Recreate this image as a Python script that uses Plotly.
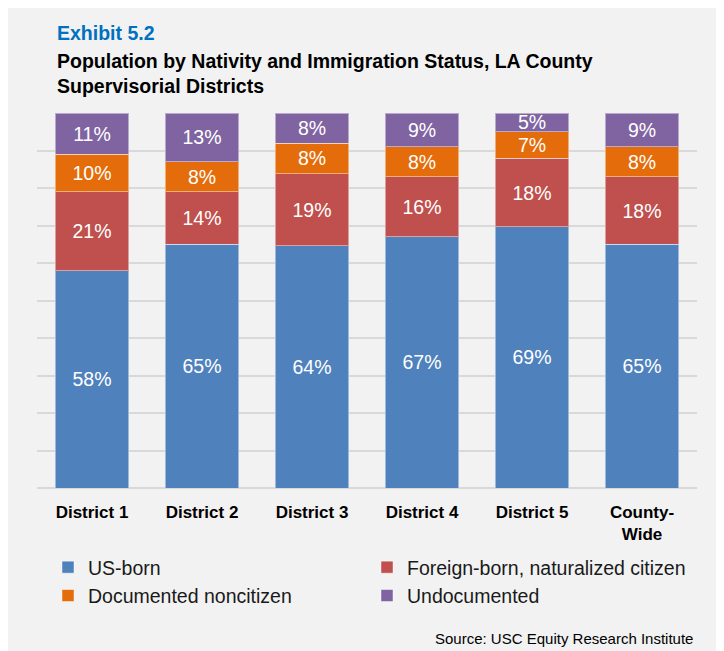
import plotly.graph_objects as go

# Data (percent of population)
districts = ["District 1", "District 2", "District 3", "District 4", "District 5", "County-<br>Wide"]
us_born = [58, 65, 64, 67, 69, 65]
naturalized = [21, 14, 19, 16, 18, 18]
documented = [10, 8, 8, 8, 7, 8]
undocumented = [11, 13, 8, 9, 5, 9]

series = [
    ("US-born", us_born, "#4f81bd"),
    ("Foreign-born, naturalized citizen", naturalized, "#c0504d"),
    ("Documented noncitizen", documented, "#e46c0a"),
    ("Undocumented", undocumented, "#8064a2"),
]

FONT = "Liberation Sans, Arial, sans-serif"

fig = go.Figure()
for name, vals, color in series:
    fig.add_trace(go.Bar(
        name=name, x=districts, y=vals, text=vals,
        texttemplate="%{text}%", textposition="inside",
        insidetextanchor="middle", constraintext="none",
        textfont=dict(family=FONT, size=19.5, color="white"),
        marker=dict(color=color, line=dict(color="rgba(255,255,255,0.45)", width=1)),
    ))

# the page body adds an 8px offset, so the figure is 8px smaller than the window
OFF = 8
# plot area in window pixels: x 37..697, y 113..488
L, R, T, B = 37, 697, 113, 488
FW, FH = 724 - OFF, 651 - OFF
W, H = R - L, B - T

def px(x):
    return (x - L) / W

def py(y):
    return (B - y) / H

fig.update_layout(
    width=FW, height=FH,
    margin=dict(l=L - OFF, r=FW - (R - OFF), t=T - OFF, b=FH - (B - OFF)),
    barmode="stack", barnorm="percent", bargap=0.335,
    paper_bgcolor="white", plot_bgcolor="rgba(0,0,0,0)",
    font=dict(family=FONT, color="black"),
    showlegend=True,
    legend=dict(
        orientation="h", x=px(48), y=py(548), xanchor="left", yanchor="top",
        entrywidth=274, entrywidthmode="pixels", traceorder="normal",
        font=dict(family=FONT, size=19.5, color="#1a1a1a"), bgcolor="rgba(0,0,0,0)",
    ),
    xaxis=dict(
        tickfont=dict(family=FONT, size=17, color="black", weight="bold"),
        ticklabelstandoff=12, showline=False, showgrid=False,
    ),
    yaxis=dict(
        range=[0, 100], dtick=10, showticklabels=False, showgrid=True,
        gridcolor="#d9d9d9", gridwidth=2, zeroline=True, zerolinecolor="#d9d9d9",
        zerolinewidth=2,
    ),
    shapes=[dict(
        type="rect", xref="paper", yref="paper", layer="below",
        x0=px(7), x1=px(721), y0=py(670), y1=py(3),
        fillcolor="#f2f2f2", line=dict(color="#d9d9d9", width=2),
    )],
    annotations=[
        dict(text="<b>Exhibit 5.2</b>", xref="paper", yref="paper",
             x=px(55), y=py(33), xanchor="left", yanchor="middle", showarrow=False,
             font=dict(family=FONT, size=19.5, color="#0070c0")),
        dict(text="<b>Population by Nativity and Immigration Status, LA County<br>Supervisorial Districts</b>",
             xref="paper", yref="paper", x=px(55), y=py(73), xanchor="left",
             yanchor="middle", align="left", showarrow=False,
             font=dict(family=FONT, size=19.5, color="black")),
        dict(text="Source: USC Equity Research Institute", xref="paper", yref="paper",
             x=px(695), y=py(638), xanchor="right", yanchor="middle", showarrow=False,
             font=dict(family=FONT, size=15, color="black")),
    ],
)

fig.write_html("out.html")
